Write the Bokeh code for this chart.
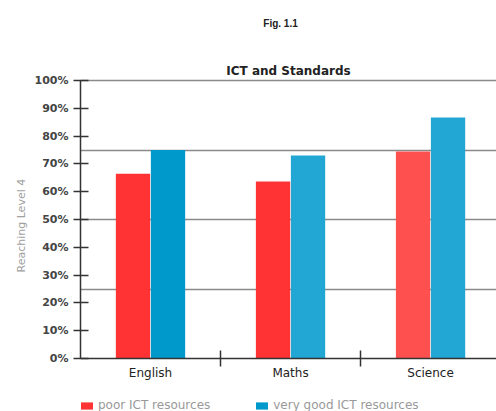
from bokeh.plotting import figure
from bokeh.models import (FixedTicker, Range1d, Legend, LegendItem, Label, LinearAxis,
                          ColumnDataSource, Title)
from bokeh.embed import file_html
from bokeh.resources import INLINE

subjects = ["English", "Maths", "Science"]
poor_ict = [66.5, 63.7, 74.5]
very_good_ict = [75.0, 73.0, 86.7]
y_ticks = [0, 10, 20, 30, 40, 50, 60, 70, 80, 90, 100]
y_tick_labels = [f"{v}%" for v in y_ticks]
grid_levels = [25, 50, 75, 100]

poor_colors = ["#ff3333", "#ff3333", "#ff5050"]
good_colors = ["#0099cc", "#22a6d4", "#22a6d4"]

centers = [i + 0.5 for i in range(len(subjects))]
bar_w = 0.245
src_poor = ColumnDataSource(dict(x=[c - 0.125 for c in centers], top=poor_ict, color=poor_colors))
src_good = ColumnDataSource(dict(x=[c + 0.125 for c in centers], top=very_good_ict, color=good_colors))

FONT = "DejaVu Sans"
X_END = 2.971
Y_START, Y_END = -19.06, 128.78

p = figure(width=496, height=411, x_range=Range1d(0, X_END), y_range=Range1d(Y_START, Y_END),
           output_backend="svg", toolbar_location=None, title=None, x_axis_location=None,
           min_border_left=80, min_border_right=0, min_border_top=0, min_border_bottom=0)
p.outline_line_color = None
p.background_fill_color = "white"

r1 = p.vbar(x="x", top="top", width=bar_w, bottom=0, source=src_poor,
            fill_color="color", line_color=None)
r2 = p.vbar(x="x", top="top", width=bar_w, bottom=0, source=src_good,
            fill_color="color", line_color=None)

# grids
p.xgrid.visible = False
p.ygrid.ticker = FixedTicker(ticks=grid_levels)
p.ygrid.grid_line_color = "#8a8a8a"
p.ygrid.grid_line_width = 1.5

# y axis
ya = p.yaxis[0]
ya.ticker = FixedTicker(ticks=y_ticks)
ya.bounds = (0, 100)
ya.major_label_overrides = {v: s for v, s in zip(y_ticks, y_tick_labels)}
ya.major_tick_in = 8
ya.major_tick_out = 7
ya.minor_tick_line_color = None
ya.axis_line_color = "#333333"
ya.axis_line_width = 1.5
ya.major_tick_line_color = "#333333"
ya.major_tick_line_width = 1.5
ya.major_label_text_font = FONT
ya.major_label_text_font_style = "bold"
ya.major_label_text_font_size = "11px"
ya.major_label_text_color = "#444444"
ya.major_label_standoff = 5

# y axis title (placed beside the axis, centred on the 0-100 span)
y_title = Title(text="Reaching Level 4", align="left", offset=139, text_font=FONT,
                text_font_size="11px", text_font_style="normal", text_color="#a0a0a0",
                standoff=8)
p.add_layout(y_title, "left")

# x axis at value 0
xa = LinearAxis(fixed_location=0)
xa.ticker = FixedTicker(ticks=centers, minor_ticks=[1, 2])
xa.major_label_overrides = {c: s for c, s in zip(centers, subjects)}
xa.major_tick_in = 0
xa.major_tick_out = 0
xa.minor_tick_in = 8
xa.minor_tick_out = 8
xa.minor_tick_line_color = "#333333"
xa.minor_tick_line_width = 1.5
xa.axis_line_color = "#333333"
xa.axis_line_width = 1.5
xa.major_label_text_font = FONT
xa.major_label_text_font_size = "12px"
xa.major_label_text_color = "#222222"
xa.major_label_standoff = -1
p.add_layout(xa, "below")

# titles
chart_title = Label(x=X_END / 2, y=103.6, text="ICT and Standards", text_align="center",
                    text_baseline="middle", text_font=FONT, text_font_size="12px",
                    text_font_style="bold", text_color="#222222")
fig_title = Label(x=X_END / 2, y=120.5, x_offset=-8, text="Fig. 1.1", text_align="center",
                  text_baseline="middle", text_font="Liberation Sans", text_font_size="10px",
                  text_font_style="bold", text_color="#222222")
p.add_layout(chart_title)
p.add_layout(fig_title)

legend = Legend(items=[LegendItem(label="poor ICT resources", renderers=[r1]),
                       LegendItem(label="very good ICT resources", renderers=[r2])],
                orientation="horizontal", location=(-1, -1),
                glyph_width=15, glyph_height=9, label_standoff=4, spacing=44,
                padding=0, margin=0, border_line_color=None, background_fill_alpha=0,
                label_text_font=FONT, label_text_font_size="12px",
                label_text_color="#999999", label_height=12)
p.add_layout(legend, "center")

open("out.html", "w").write(file_html(p, INLINE))
